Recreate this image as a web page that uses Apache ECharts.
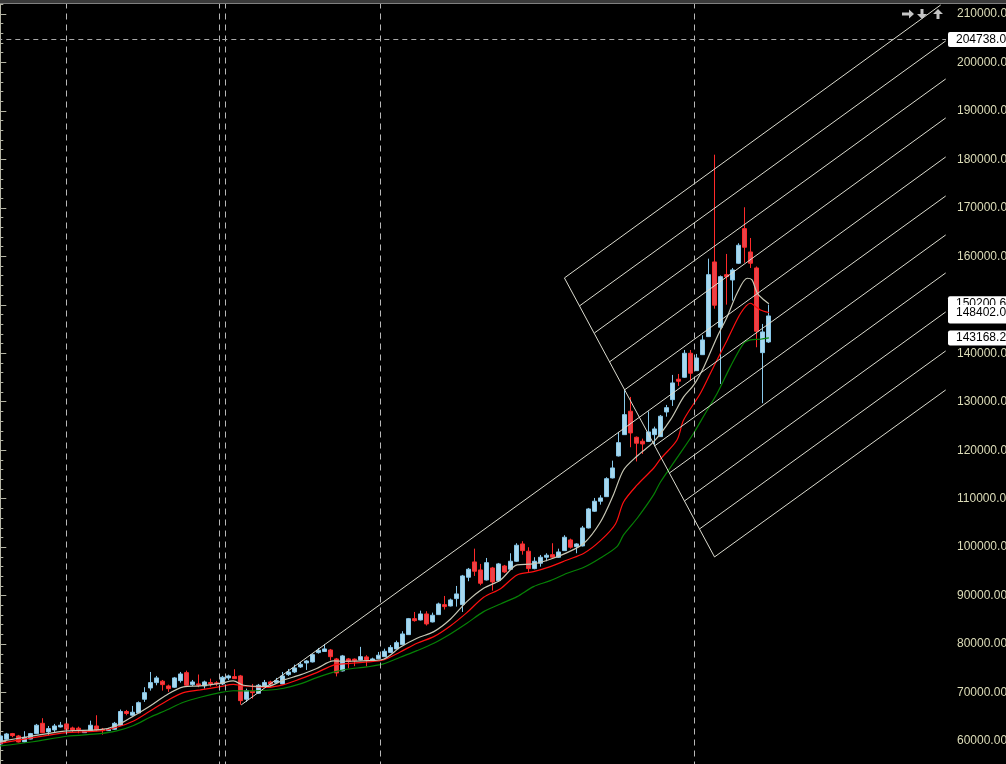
<!DOCTYPE html>
<html><head><meta charset="utf-8">
<script src="https://cdn.jsdelivr.net/npm/echarts@6/dist/echarts.min.js"></script>
<style>html,body{margin:0;padding:0;background:#000;}#c{width:1006px;height:764px;}</style>
</head><body><div id="c"></div>
<script>
// ---- candle data (bar index = position in arrays) ----
const opens = [59400,60370,61530,61050,59810,60410,61530,63660,61880,62290,62910,63530,62700,62650,61730,62140,63110,62430,62140,62430,
63260,66090,65320,65800,68620,70950,72050,72340,71370,71100,72460,74110,71640,71780,71370,72050,72000,71780,73020,73290,
73430,68620,70270,69860,71370,72190,72050,71780,73700,74250,75290,76110,76320,78240,78480,78790,76940,74460,76940,76900,
76730,77350,76630,77000,77410,78280,79000,79890,81950,85250,84980,86220,84570,86080,88140,87870,89380,88140,93790,96950,
95300,93230,95710,93090,96120,95440,97090,100660,99160,95570,96680,97920,98450,97920,99280,101490,100100,100250,103960,107410,
109470,110420,114280,118820,123210,128040,122670,121850,121810,123210,122800,127890,130430,134640,135050,140000,136410,139710,143430,158840,
145370,156220,155120,158570,165710,160900,157600,140130,142330];
const highs = [61260,61670,61670,61260,62030,61670,63530,64710,63110,63530,63940,63940,62970,62970,62080,64200,65320,62700,62700,63940,
66500,66420,67240,68170,71100,74250,73430,72600,71640,73220,74250,74520,72600,73720,72460,72870,72340,73430,73700,74810,
73640,70810,71780,71780,72600,72460,73020,74250,74870,75760,76320,76730,77970,79200,80030,79000,77140,77760,77140,77040,
79430,77700,77200,78380,79060,79800,80710,82650,85390,86630,86900,86780,86490,88550,89930,89380,92000,94270,95710,99690,
96540,97770,95920,96740,96330,98740,100810,101220,99980,97920,98390,98740,100810,99690,102460,101750,100810,104380,108090,110150,
110710,114420,117850,123770,132580,130990,122840,122380,128000,124860,127270,129340,135530,135730,140680,140680,139860,143720,159520,180970,
156050,160490,157600,162700,170120,163790,157910,146050,150030];
const lows = [59200,60230,60780,59710,59710,60350,61480,61670,61200,61880,62800,62020,61880,61610,61670,62080,62020,61320,62080,62290,
63110,65320,65180,65740,68070,70400,71500,70400,70130,70950,72050,71370,71370,71100,70810,71220,71370,71570,72600,72810,
67510,68070,68750,69720,71160,71220,71780,71680,73430,74050,75080,74670,76210,78030,78380,76610,73330,74360,75000,75450,
76630,75390,76520,76870,77350,78170,78900,79820,81890,84630,84880,83830,84470,86010,87130,87770,87730,86630,92970,94060,
92140,93130,91030,92820,94680,95300,96950,98450,94880,95440,95980,97090,97770,97770,99220,99690,98740,100150,103860,107260,
108770,110360,114170,118710,123150,120610,117680,119230,121700,121150,122740,126920,129130,133260,134910,134350,136350,139650,143370,149200,
133670,150030,150850,158430,158690,157600,141240,129690,142130];
const closes = [61050,61460,61110,59810,60780,61530,63260,61730,62560,63110,63260,62430,62290,62350,62020,63260,62290,62140,62430,63660,
66090,65680,65940,67920,69980,72050,73020,71640,70810,73020,73840,71510,72190,71510,72190,71780,71830,73160,73430,72870,
68330,70400,69980,71510,72090,71780,72460,73430,74250,75080,75840,76520,77820,78730,79000,77410,74050,77560,76380,76590,
77410,76730,76940,77700,78520,79310,80300,82090,85250,84840,86220,84160,85950,88280,87730,89110,90350,94060,95440,95030,
92550,96800,92820,96540,94880,97090,100390,99280,95570,97090,97920,98330,97920,99010,102040,99980,100660,103960,107880,109470,
110150,114130,116340,121560,127340,123560,121440,121290,123770,124390,127010,128780,133880,134230,140000,135880,139030,142750,156220,149910,
155810,155810,157190,162280,161870,158570,144540,144400,147700];

// ---- moving averages: [bar position, price] ----
const maWhite = [[0,59917],[5.45,61051],[11.07,62083],[16.6,62351],[19.4,63217],[22.2,65177],[24.95,67240],[27.7,69509],[30.5,71160],[33.3,71366],
[36.6,71882],[38.8,72398],[40.5,71511],[44.4,71263],[47.2,72604],[49.95,73635],[52.7,74976],[55.5,76524],[57.7,76462],[61.07,76586],
[63.8,76874],[66.6,79350],[69.4,81207],[72.2,82568],[74.95,85126],[77.7,88757],[80.5,91522],[83.3,93234],[86.07,96329],[88.8,96535],
[91.6,97504],[94.4,98866],[97.2,100805],[99.95,105199],[102.1,110770],[103.8,115927],[106.07,118815],[108.8,121703],[111.6,126242],[113.8,130987],
[115.5,133463],[117.2,137238],[119.4,143427],[121.07,147553],[122.7,152380],[124.4,155475],[125.2,155124],[126.07,152380],[127.2,150998],[128,150200.6]];
const maRed = [[0,59504],[5.45,60701],[11.07,61733],[16.6,62082],[19.4,62846],[22.2,64145],[24.95,66208],[27.7,68272],[30.5,69984],[33.3,70541],
[36.6,71222],[38.8,71676],[40.5,71366],[44.4,71057],[47.2,71635],[49.95,72810],[52.7,74110],[55.5,75657],[57.7,75967],[61.07,76317],
[63.8,76730],[66.6,78380],[69.4,80175],[72.2,81536],[74.95,83744],[77.7,86488],[80.5,89665],[83.3,91439],[86.07,94266],[88.8,94946],
[91.6,95978],[94.4,97360],[97.2,98742],[99.95,101343],[102.45,104788],[103.8,109325],[106.07,112833],[108.8,116278],[109.95,118197],[112.7,122117],
[113.8,126243],[116.6,131750],[118.8,137238],[121.07,142746],[123.3,148254],[124.95,150317],[125.8,149615],[126.6,148934],[128,148402.0]];
const maGreen = [[0,58988],[5.45,59855],[11.07,60989],[16.6,61526],[19.4,62083],[22.2,63217],[24.95,64909],[27.7,66415],[30.5,68003],[33.3,69035],
[36.6,69984],[38.8,70376],[40.8,70335],[44.4,70479],[47.2,70892],[49.95,71779],[52.7,73078],[55.5,74213],[57.7,74811],[61.07,75286],
[63.8,75905],[66.6,77287],[69.4,78648],[72.2,80175],[74.95,82093],[77.7,84301],[80.5,86694],[83.3,88283],[86.07,89789],[88.8,91852],
[91.6,93090],[94.4,94616],[97.2,95854],[99.95,97773],[102.7,100104],[103.8,102518],[106.07,105963],[108.8,110770],[109.95,113451],[112.7,118403],
[115.5,123560],[117.45,127687],[119.4,131750],[121.6,137238],[123.8,142061],[124.95,142746],[126.6,142890],[128,143168.2]];

// ---- drawn objects (in bar position / price units) ----
const separators = [11, 36.5, 37.5, 63.33, 115.5];
const channelRays = [
 [[93.95,155540],[156.62,211860]],
 [[96.45,149760],[157.45,204430]],
 [[98.95,144190],[157.45,196590]],
 [[101.45,138210],[157.45,188550]],
 [[103.95,132430],[157.45,180500]],
 [[40.12,67450],[157.45,172450]],
 [[108.95,120880],[157.45,164410]],
 [[111.45,115310],[157.45,156570]],
 [[113.95,109530],[157.45,148520]],
 [[116.45,103760],[157.45,140480]],
 [[118.95,97980],[157.45,132430]]
];
const channelCross = [[93.95,155540],[118.95,97980]];
const levelLine = 204738.0;
const priceTags = [150200.6, 147712.4, 148402.0, 143168.2];
const yMin = 50000, yMax = 220000, yStep = 10000;
const xMin = -0.5, xMax = 157.5;

const chart = echarts.init(document.getElementById('c'), null, {renderer:'canvas'});
const candleData = opens.map((o,i)=>[i, o, closes[i], lows[i], highs[i]]);
const FONT = 'Liberation Sans';
const tagLabel = {
  show:true, position:'end', distance:2,
  formatter: p => Number(p.value).toFixed(2),
  backgroundColor:'#ffffff', color:'#000000', fontFamily:FONT, fontSize:12,
  padding:[1,4,1,8], borderRadius:2, lineHeight:13
};
const option = {
  backgroundColor:'#000000',
  animation:false,
  textStyle:{fontFamily:FONT},
  grid:{left:-2.7, right:60, top:-34.5, height:824, containLabel:false, outerBoundsMode:'none'},
  xAxis:{type:'value', min:xMin, max:xMax, show:false},
  yAxis:{type:'value', position:'right', min:yMin, max:yMax, interval:yStep,
    axisLine:{show:true, lineStyle:{color:'#b4b4a4', width:1}},
    axisTick:{show:true, length:6, lineStyle:{color:'#b4b4a4'}},
    minorTick:{show:true, splitNumber:5, length:3, lineStyle:{color:'#b4b4a4'}},
    splitLine:{show:false},
    axisLabel:{color:'#dcdcb8', fontSize:12, fontFamily:FONT, margin:11, formatter:v=>v.toFixed(2)}
  },
  series:[
    {type:'line', data:[], z:1, silent:true,
     markLine:{silent:true, symbol:['none','none'], animation:false, label:{show:false},
       lineStyle:{color:'#b8b8b8', type:[6,5], width:1},
       data: separators.map(v=>({xAxis:v}))}},
    {type:'candlestick', z:3, data:candleData, barWidth:4.6, silent:true,
     itemStyle:{color:'#a8d8ee', color0:'#e8434a', borderColor:'#87c8ea', borderColor0:'#ff2a2a', borderWidth:1}},
    {type:'line', z:4, data:maGreen, showSymbol:false, smooth:0.3, silent:true, lineStyle:{color:'#068206', width:1.2}},
    {type:'line', z:4, data:maRed, showSymbol:false, smooth:0.3, silent:true, lineStyle:{color:'#ff1010', width:1.2}},
    {type:'line', z:4, data:maWhite, showSymbol:false, smooth:0.3, silent:true, lineStyle:{color:'#c8c8b6', width:1.2}},
    {type:'lines', coordinateSystem:'cartesian2d', z:5, clip:true, silent:true, polyline:false,
     lineStyle:{color:'#dcdcd0', width:1, opacity:1},
     data: channelRays.concat([channelCross]).map(c=>({coords:c}))},
    {type:'line', data:[], z:10, silent:true,
     markLine:{silent:true, symbol:['none','none'], animation:false,
       data: [{yAxis:levelLine, lineStyle:{color:'#a8a8a8', type:[5,4], width:1}, label:tagLabel}]
         .concat(priceTags.map(v=>({yAxis:v, lineStyle:{color:'rgba(0,0,0,0)', width:0}, label:tagLabel})))}}
  ],
  graphic:[
    {type:'rect', shape:{x:0,y:0,width:1006,height:3}, style:{fill:'#3a3a3a'}, z:100},
    {type:'rect', shape:{x:0,y:3,width:1006,height:1}, style:{fill:'#808080'}, z:100},
    {type:'polygon', shape:{points:[[902,12.5],[909,12.5],[909,9.5],[914,14],[909,18.5],[909,15.5],[902,15.5]]}, style:{fill:'#c4c4c4'}, z:100},
    {type:'polygon', shape:{points:[[920.5,9],[923.5,9],[923.5,14],[927,14],[922,19],[917,14],[920.5,14]]}, style:{fill:'#c4c4c4'}, z:100},
    {type:'polygon', shape:{points:[[936.5,19],[939.5,19],[939.5,14],[943,14],[938,9],[933,14],[936.5,14]]}, style:{fill:'#c4c4c4'}, z:100}
  ]
};
chart.setOption(option);
</script></body></html>
